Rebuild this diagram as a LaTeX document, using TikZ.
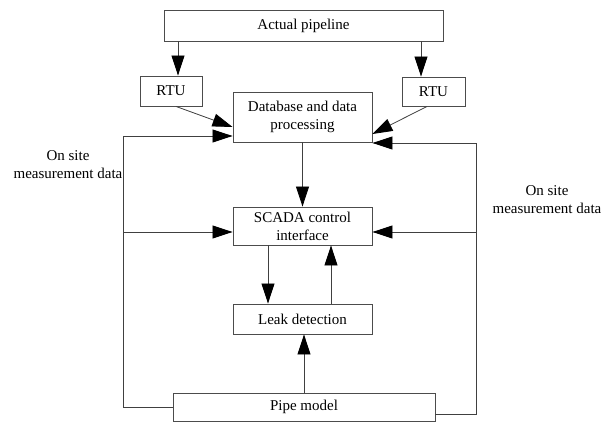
\documentclass[tikz,border=0pt]{standalone}
\usepackage{fontspec}
\setmainfont{Liberation Serif}
\usetikzlibrary{arrows.meta}
\tikzset{
         blk/.style=
          {
           draw=black!70,line width=.9pt,inner sep=0pt,align=center,
           font=\fontsize{15}{18}\selectfont
          },
         arr/.style=
          {
           draw=black!75,line width=.8pt,
           -{Triangle[length=20pt,width=13pt,color=black,fill=black]}
          },
         lbl/.style={align=center,font=\fontsize{15}{18}\selectfont}
        }
\begin{document}
\begin{tikzpicture}[x=1pt,y=1pt]
\useasboundingbox(0,0)rectangle(603,-422);
%blocks
\node[blk,minimum width=279,minimum height=31](actual)at(303.5,-25.5){Actual pipeline};
\node[blk,minimum width=62,minimum height=30](rtul)at(171,-91){RTU};
\node[blk,minimum width=63,minimum height=29](rtur)at(433.5,-91.5){RTU};
\node[blk,minimum width=139,minimum height=50](db)at(302.5,-117){Database and data\\processing};
\node[blk,minimum width=139,minimum height=38](scada)at(302.5,-226){SCADA control\\interface};
\node[blk,minimum width=139,minimum height=30](leak)at(302.5,-319){Leak detection};
\node[blk,minimum width=262,minimum height=28](pipe)at(304,-407){Pipe model};
\coordinate(lbus)at(123,0);
\coordinate(rbus)at(476,0);
%arrows
\draw[arr]([xshift=7pt]rtul.north|-actual.south)--([xshift=7pt]rtul.north);
\draw[arr]([xshift=-12.5pt]rtur.north|-actual.south)--([xshift=-12.5pt]rtur.north);
\draw[arr]([xshift=5pt]rtul.south)--([yshift=-10pt]db.west);
\draw[arr]([xshift=-6.5pt]rtur.south)--([yshift=-17pt]db.east);
\draw[arr](db.south)--(scada.north);
\draw[arr]([xshift=-34.5pt]scada.south)--([xshift=-34.5pt]scada.south|-leak.north);
\draw[arr]([xshift=28.5pt]leak.north)--([xshift=28.5pt]leak.north|-scada.south);
\draw[arr](pipe.north)--(pipe.north|-leak.south);
%feedback
\draw[arr](pipe.west)-|([yshift=-19pt]db.west-|lbus)--([yshift=-19pt]db.west);
\draw[arr]([yshift=-6pt]scada.west-|lbus)--([yshift=-6pt]scada.west);
\draw[arr]([yshift=-7.5pt]pipe.east)-|([yshift=-26pt]db.east-|rbus)--([yshift=-26pt]db.east);
\draw[arr]([yshift=-6pt]scada.east-|rbus)--([yshift=-6pt]scada.east);
%labels
\node[lbl](ml)at(68,-165){On site\\measurement data};
\node[lbl](mr)at(547,-200){On site\\measurement data};
\end{tikzpicture}
\end{document}
